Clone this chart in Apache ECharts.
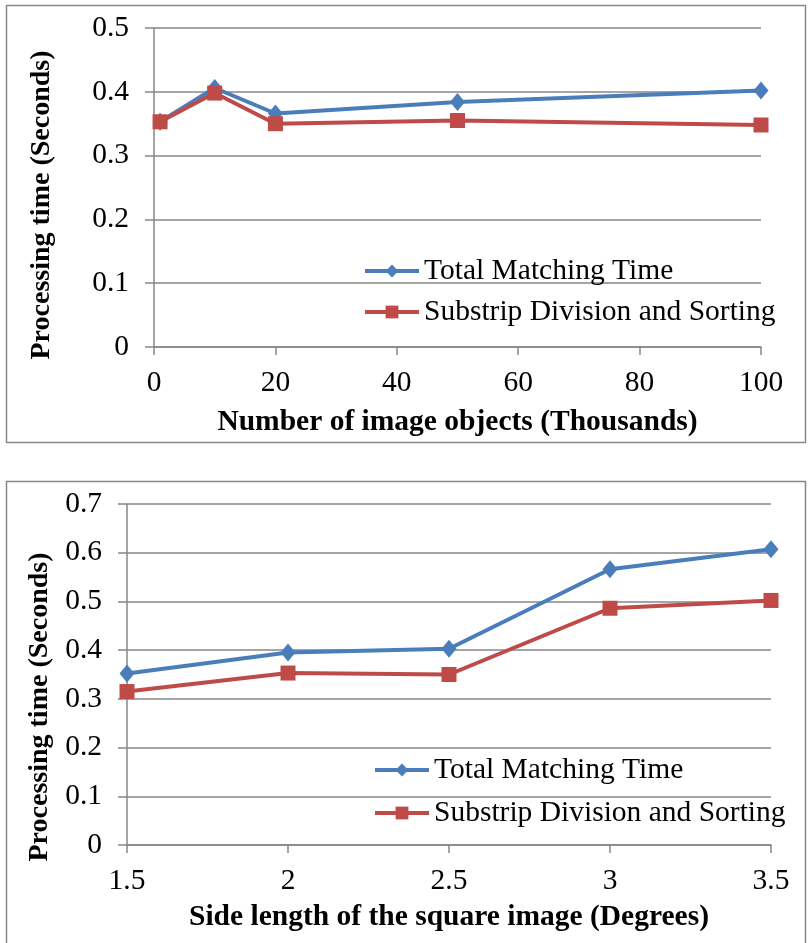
<!DOCTYPE html>
<html>
<head>
<meta charset="utf-8">
<script src="https://cdn.jsdelivr.net/npm/echarts@6/dist/echarts.min.js"></script>
<style>
html,body{margin:0;padding:0;background:#fff;}
#chart{width:812px;height:943px;}
</style>
</head>
<body>
<div id="chart"></div>
<script>
// ---- Data ----
var seriesNames = ['Total Matching Time', 'Substrip Division and Sorting'];

// Top chart: number of image objects (thousands)
var topX = [1, 10, 20, 50, 100];
var topTotal = [0.353, 0.406, 0.366, 0.384, 0.402];
var topSubstrip = [0.353, 0.398, 0.350, 0.355, 0.348];
var topXTicks = [0, 20, 40, 60, 80, 100];
var topYTicks = [0, 0.1, 0.2, 0.3, 0.4, 0.5];

// Bottom chart: side length of the square image (degrees)
var botX = [1.5, 2, 2.5, 3, 3.5];
var botTotal = [0.352, 0.395, 0.403, 0.566, 0.607];
var botSubstrip = [0.315, 0.353, 0.350, 0.486, 0.502];
var botXTicks = [1.5, 2, 2.5, 3, 3.5];
var botYTicks = [0, 0.1, 0.2, 0.3, 0.4, 0.5, 0.6, 0.7];

var topXTitle = 'Number of image objects (Thousands)';
var botXTitle = 'Side length of the square image (Degrees)';
var yTitle = 'Processing time (Seconds)';

// ---- Build ----
function pairs(xs, ys) { return xs.map(function (x, i) { return [x, ys[i]]; }); }

var FONT = "'Liberation Serif', 'Times New Roman', serif";
var FS = 29.5;
var GRAY = '#878787';
var BLUE = '#4A7EBB';
var RED = '#BE4B48';

function xAxisCfg(idx, ticks, title, gap) {
  return {
    type: 'value', gridIndex: idx,
    min: ticks[0], max: ticks[ticks.length - 1], interval: ticks[1] - ticks[0],
    axisLine: { show: true, lineStyle: { color: GRAY, width: 1.5 } },
    axisTick: { show: true, length: 8, lineStyle: { color: GRAY, width: 1.5 } },
    splitLine: { show: false },
    axisLabel: { color: '#000', fontFamily: FONT, fontSize: FS, margin: 21 },
    name: title, nameLocation: 'middle', nameGap: gap,
    nameTextStyle: { color: '#000', fontFamily: FONT, fontSize: FS, fontWeight: 'bold' }
  };
}
function yAxisCfg(idx, ticks) {
  return {
    type: 'value', gridIndex: idx,
    min: ticks[0], max: ticks[ticks.length - 1], interval: 0.1,
    axisLine: { show: true, lineStyle: { color: GRAY, width: 1.5 } },
    axisTick: { show: true, length: 9, lineStyle: { color: GRAY, width: 1.5 } },
    splitLine: { show: true, lineStyle: { color: GRAY, width: 1.5 } },
    axisLabel: { color: '#000', fontFamily: FONT, fontSize: FS, margin: 25,
      formatter: function (v) { return String(Math.round(v * 10) / 10); } }
  };
}
function lineSeries(name, idx, data, color, symbol, size) {
  return {
    name: name, type: 'line', xAxisIndex: idx, yAxisIndex: idx,
    data: data, symbol: symbol, symbolSize: size,
    lineStyle: { color: color, width: 4 },
    itemStyle: { color: color },
    emphasis: { disabled: true }, animation: false, z: 3
  };
}
function legendCfg(name, left, centerY) {
  return {
    data: [name], left: left, top: centerY - 15, padding: 0,
    itemWidth: 54, itemHeight: 16, itemGap: 0,
    lineStyle: { width: 4 },
    textStyle: { color: '#000', fontFamily: FONT, fontSize: FS, lineHeight: 30, padding: [0, 0, 0, 0] },
    selectedMode: false
  };
}
function yTitleText(x, y) {
  return {
    type: 'text', x: x, y: y, rotation: Math.PI / 2, silent: true,
    style: { text: yTitle, fill: '#000', font: 'bold 28px ' + FONT,
      textAlign: 'center', textVerticalAlign: 'middle' }
  };
}

var option = {
  animation: false,
  backgroundColor: '#fff',
  graphic: [
    { type: 'rect', shape: { x: 6.5, y: 5.5, width: 799, height: 437 },
      style: { fill: 'none', stroke: GRAY, lineWidth: 1.5 }, silent: true },
    { type: 'rect', shape: { x: 6.5, y: 481.5, width: 799, height: 480 },
      style: { fill: 'none', stroke: GRAY, lineWidth: 1.5 }, silent: true },
    yTitleText(42, 205),
    yTitleText(40, 707)
  ],
  grid: [
    { left: 154, top: 28, width: 607, height: 319 },
    { left: 127, top: 504, width: 644, height: 341 }
  ],
  xAxis: [xAxisCfg(0, topXTicks, topXTitle, 60), xAxisCfg(1, botXTicks, botXTitle, 57)],
  yAxis: [yAxisCfg(0, topYTicks), yAxisCfg(1, botYTicks)],
  legend: [
    legendCfg(seriesNames[0], 363, 271),
    legendCfg(seriesNames[1], 363, 312),
    legendCfg(seriesNames[0], 373, 770),
    legendCfg(seriesNames[1], 373, 813)
  ],
  series: [
    lineSeries(seriesNames[0], 0, pairs(topX, topTotal), BLUE, 'diamond', [15, 18]),
    lineSeries(seriesNames[1], 0, pairs(topX, topSubstrip), RED, 'rect', 15),
    lineSeries(seriesNames[0], 1, pairs(botX, botTotal), BLUE, 'diamond', [15, 18]),
    lineSeries(seriesNames[1], 1, pairs(botX, botSubstrip), RED, 'rect', 15)
  ]
};

var chart = echarts.init(document.getElementById('chart'), null, { renderer: 'canvas' });
chart.setOption(option);
</script>
</body>
</html>
